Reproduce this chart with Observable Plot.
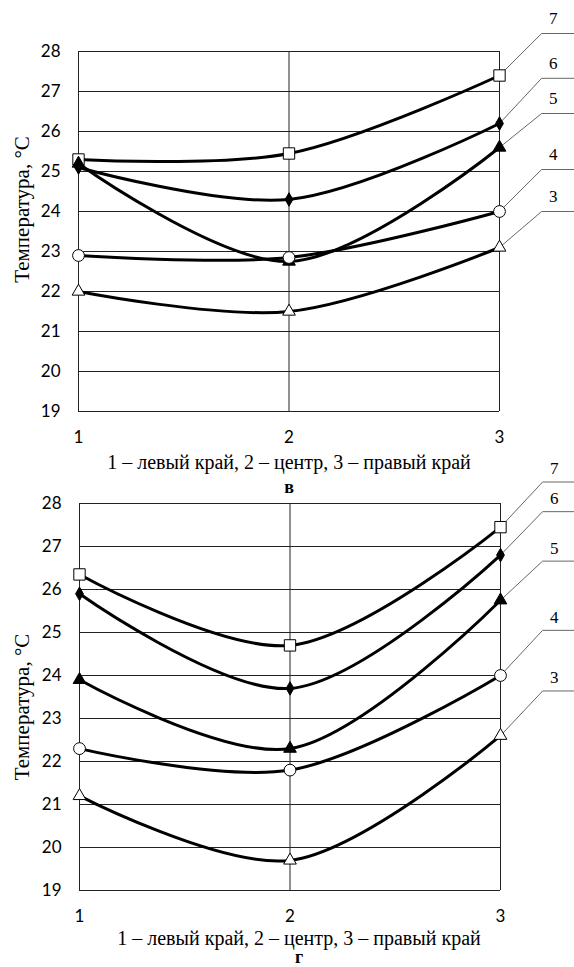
<!DOCTYPE html>
<html><head><meta charset="utf-8">
<script src="https://cdn.jsdelivr.net/npm/d3@7"></script>
<script src="https://cdn.jsdelivr.net/npm/@observablehq/plot@0.6"></script>
<style>
body{margin:0;background:#fff;}
#chart{position:relative;width:574px;height:967px;overflow:hidden;background:#fff}
#chart svg{position:absolute;left:0;overflow:visible;background:transparent}
</style></head><body><div id="chart"></div>
<script>
// ---- data ----
const positions = [1, 2, 3];
const xTickLabels = ["1", "2", "3"];
const yTicks = [19, 20, 21, 22, 23, 24, 25, 26, 27, 28];
const seriesNames = ["3", "4", "5", "6", "7"];
const seriesSymbols = ["triangle", "circle", "triangle", "diamond", "square"];
const seriesFilled = [false, false, true, true, false];

// panel "в"
const panelV_3 = [22.0, 21.5, 23.1];
const panelV_4 = [22.9, 22.85, 24.0];
const panelV_5 = [25.2, 22.75, 25.6];
const panelV_6 = [25.1, 24.3, 26.2];
const panelV_7 = [25.3, 25.45, 27.4];
const panelV_labelLevels = [24.0, 25.05, 26.45, 27.33, 28.45];

// panel "г"
const panelG_3 = [21.2, 19.7, 22.6];
const panelG_4 = [22.3, 21.8, 24.0];
const panelG_5 = [23.9, 22.3, 25.75];
const panelG_6 = [25.9, 23.7, 26.8];
const panelG_7 = [26.35, 24.7, 27.45];
const panelG_labelLevels = [23.64, 25.05, 26.66, 27.81, 28.5];

const xAxisTitle = "1 – левый край, 2 – центр, 3 – правый край";
const yAxisTitle = "Температура, °С";
const panelLetters = ["в", "г"];

// ---- drawing ----
const SERIF = "'Liberation Serif', 'Times New Roman', serif";
const SANS = "Lato, 'Open Sans', sans-serif";
const symbolR = {triangle: 4.7, circle: 5.9, diamond: 4.1, square: 6.4};

function panel(o) {
  const rows = [];
  seriesNames.forEach((s, i) => o.data[i].forEach((v, j) => rows.push({series: s, idx: i, x: positions[j], y: v})));
  const leaders = [];
  seriesNames.forEach((s, i) => {
    const v = o.data[i][2];
    leaders.push({series: s, x: 3, y: v}, {series: s, x: 3.2, y: o.levels[i]}, {series: s, x: 3.4, y: o.levels[i]});
  });
  const labels = seriesNames.map((s, i) => ({series: s, x: 3.255, y: o.levels[i]}));
  const dotMarks = [];
  for (let i = seriesNames.length - 1; i >= 0; i--) {
    const sym = seriesSymbols[i];
    dotMarks.push(Plot.dot(rows.filter(d => d.idx === i), {
      x: "x", y: "y", symbol: sym, r: symbolR[sym],
      fill: seriesFilled[i] ? "black" : "white", stroke: "black", strokeWidth: 1
    }));
  }
  return Plot.plot({
    width: 574, height: o.height,
    marginTop: o.mt, marginBottom: o.mb, marginLeft: o.ml, marginRight: o.mr,
    x: {domain: [1, 3]},
    y: {domain: [19, 28]},
    style: {fontFamily: SANS, fontSize: "17px", background: "transparent", overflow: "visible", color: "black"},
    marks: [
      Plot.ruleY(yTicks, {stroke: "#222", strokeWidth: 1}),
      Plot.ruleX(positions, {stroke: "#222", strokeWidth: 1}),
      Plot.axisY(yTicks, {tickSize: 0, tickPadding: 18, label: null, fontSize: 17, fontFamily: SANS}),
      Plot.axisX(positions, {tickSize: 0, tickPadding: 19, label: null, fontSize: 17, fontFamily: SANS, tickFormat: (d, i) => xTickLabels[i]}),
      Plot.line(leaders, {x: "x", y: "y", z: "series", stroke: "#666", strokeWidth: 1}),
      Plot.line(rows, {x: "x", y: "y", z: "series", curve: "catmull-rom", stroke: "black", strokeWidth: 3}),
      ...dotMarks,
      Plot.text(labels, {x: "x", y: "y", text: "series", dy: o.labelDy, lineAnchor: "middle", fontSize: 17, fontFamily: SERIF}),
      Plot.text([xAxisTitle], {text: d => d, frameAnchor: "bottom", dx: o.titleDx, dy: o.titleDy, lineAnchor: "middle", fontSize: 20, fontFamily: SERIF}),
      Plot.text([o.letter], {text: d => d, frameAnchor: "bottom", dx: o.titleDx, dy: o.letterDy, lineAnchor: "middle", fontSize: 18, fontWeight: "bold", fontFamily: SERIF}),
      Plot.text([yAxisTitle], {text: d => d, frameAnchor: "left", textAnchor: "middle", rotate: -90, dx: o.yDx, dy: o.yDy, lineAnchor: "middle", fontSize: 21, fontFamily: SERIF})
    ]
  });
}

const chartDiv = document.getElementById("chart");
const topPanel = panel({
  data: [panelV_3, panelV_4, panelV_5, panelV_6, panelV_7], levels: panelV_labelLevels,
  height: 480, mt: 51, mb: 69, ml: 78, mr: 75,
  titleDx: 0, titleDy: 51, letter: panelLetters[0], letterDy: 76,
  yDx: -56, yDy: -22, labelDy: -15
});
topPanel.style.top = "0px";
chartDiv.appendChild(topPanel);
const bottomPanel = panel({
  data: [panelG_3, panelG_4, panelG_5, panelG_6, panelG_7], levels: panelG_labelLevels,
  height: 487, mt: 23, mb: 77, ml: 79, mr: 74,
  titleDx: 9, titleDy: 48, letter: panelLetters[1], letterDy: 67,
  yDx: -57, yDy: 10, labelDy: -13
});
bottomPanel.style.top = "480px";
chartDiv.appendChild(bottomPanel);
</script></body></html>
